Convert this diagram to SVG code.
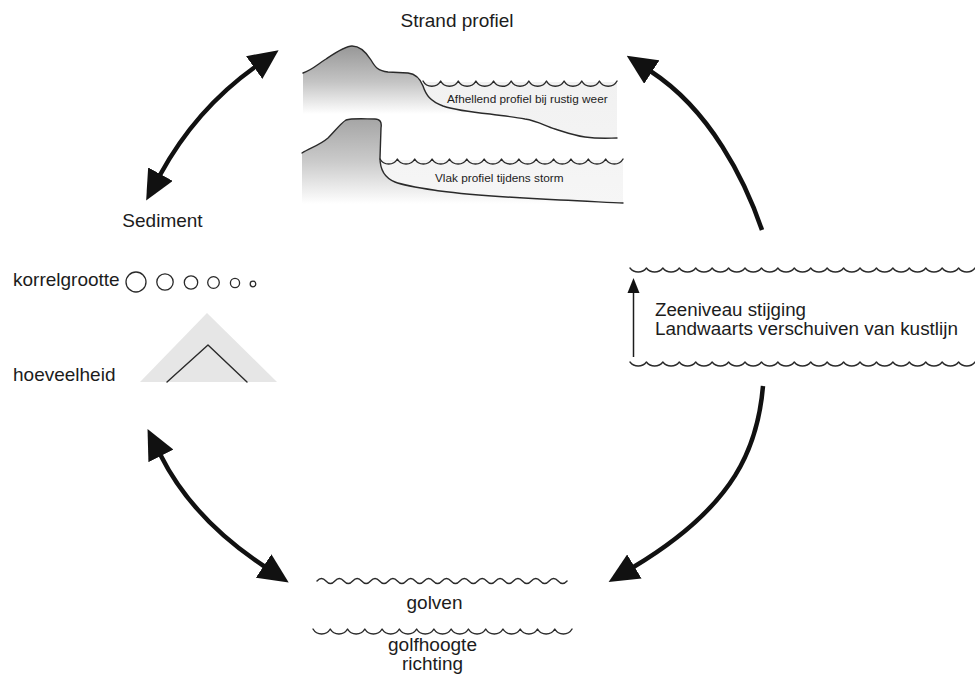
<svg xmlns="http://www.w3.org/2000/svg" width="975" height="688" viewBox="0 0 975 688">
<style>
.t{font-family:"Liberation Sans",Arial,Helvetica,sans-serif;font-size:19px;fill:#1c1c1c}
.c{font-size:17.5px}
.s{font-size:11.8px}
.m{text-anchor:middle}
.ln{fill:none;stroke:#2a2a2a;stroke-width:1.4;stroke-linejoin:round;stroke-linecap:round}
.arr{fill:none;stroke:#111;stroke-width:4.5}
</style>
<defs>
<marker id="ah" viewBox="0 0 30 28" refX="1" refY="14" markerWidth="30" markerHeight="28" markerUnits="userSpaceOnUse" orient="auto-start-reverse">
<path d="M0,0 L30,14 L0,28 Z" fill="#111"/>
</marker>
<linearGradient id="g1" gradientUnits="userSpaceOnUse" x1="0" y1="50" x2="0" y2="114">
<stop offset="0" stop-color="#9c9c9c"/><stop offset="0.5" stop-color="#c4c4c4"/><stop offset="1" stop-color="#ffffff"/>
</linearGradient>
<linearGradient id="g2" gradientUnits="userSpaceOnUse" x1="0" y1="120" x2="0" y2="204">
<stop offset="0" stop-color="#a6a6a6"/><stop offset="0.5" stop-color="#cbcbcb"/><stop offset="1" stop-color="#ffffff"/>
</linearGradient>
<linearGradient id="gw" gradientUnits="userSpaceOnUse" x1="0" y1="80" x2="0" y2="205">
<stop offset="0" stop-color="#f1f1f1"/><stop offset="1" stop-color="#f6f6f6"/>
</linearGradient>
</defs>
<rect width="975" height="688" fill="#ffffff"/>

<g id="strand-profiel">
<text class="t m" x="457" y="27">Strand profiel</text>
<path d="M303,73 C312,70 318,64 326,59 C335,53 345,46 352,46 C360,46 366,52 371,60 C375,67 378,71 388,72 L408,73 C416,74 420,78 423,86 C426,95 430,101 443,106 C455,110 470,112 490,114 C505,116 515,117 525,119 C538,121 545,126 555,129 C565,132 572,135 585,137 C600,139 610,138 617,138 L617,140 L303,140 Z" fill="url(#g1)"/>
<path d="M423,82 L617,82 L617,138 C610,138 600,139 585,137 C572,135 565,132 555,129 C545,126 538,121 525,119 C515,117 505,116 490,114 C470,112 455,110 443,106 C430,101 426,95 423,86 Z" fill="url(#gw)"/>
<path class="ln" d="M303,73 C312,70 318,64 326,59 C335,53 345,46 352,46 C360,46 366,52 371,60 C375,67 378,71 388,72 L408,73 C416,74 420,78 423,86 C426,95 430,101 443,106 C455,110 470,112 490,114 C505,116 515,117 525,119 C538,121 545,126 555,129 C565,132 572,135 585,137 C600,139 610,138 617,138"/>
<path class="ln" d="M423,81 a10,10 0 0 0 17.64,0 a10,10 0 0 0 17.64,0 a10,10 0 0 0 17.64,0 a10,10 0 0 0 17.64,0 a10,10 0 0 0 17.64,0 a10,10 0 0 0 17.64,0 a10,10 0 0 0 17.64,0 a10,10 0 0 0 17.64,0 a10,10 0 0 0 17.64,0 a10,10 0 0 0 17.64,0 a10,10 0 0 0 17.64,0"/>
<text class="t s" x="447" y="103">Afhellend profiel bij rustig weer</text>

<path d="M302,153 C310,148 320,145 328,138 C335,131 340,124 346,120 C352,118 365,119 375,119 C380,119 382,122 381,128 L380,158 C380,170 385,178 395,182 C405,186 420,188 440,191 C470,195 520,198 560,200 C590,201 610,203 623,203 L623,212 L302,212 Z" fill="url(#g2)"/>
<path d="M380,160 L623,160 L623,203 C610,203 590,201 560,200 C520,198 470,195 440,191 C420,188 405,186 395,182 C385,178 380,170 380,160 Z" fill="url(#gw)"/>
<path class="ln" d="M302,153 C310,148 320,145 328,138 C335,131 340,124 346,120 C352,118 365,119 375,119 C380,119 382,122 381,128 L380,158 C380,170 385,178 395,182 C405,186 420,188 440,191 C470,195 520,198 560,200 C590,201 610,203 623,203"/>
<path class="ln" d="M380,159 a10,10 0 0 0 17.36,0 a10,10 0 0 0 17.36,0 a10,10 0 0 0 17.36,0 a10,10 0 0 0 17.36,0 a10,10 0 0 0 17.36,0 a10,10 0 0 0 17.36,0 a10,10 0 0 0 17.36,0 a10,10 0 0 0 17.36,0 a10,10 0 0 0 17.36,0 a10,10 0 0 0 17.36,0 a10,10 0 0 0 17.36,0 a10,10 0 0 0 17.36,0 a10,10 0 0 0 17.36,0 a10,10 0 0 0 17.36,0"/>
<text class="t s" x="435" y="182">Vlak profiel tijdens storm</text>
</g>

<g id="sediment">
<text class="t m" x="162.5" y="227">Sediment</text>
<text class="t" x="13" y="286">korrelgrootte</text>
<g fill="none" stroke="#2a2a2a" stroke-width="1.3">
<circle cx="136" cy="282" r="10"/>
<circle cx="165" cy="282" r="8.2"/>
<circle cx="191" cy="282.5" r="6.7"/>
<circle cx="213.5" cy="282.5" r="5.8"/>
<circle cx="235" cy="283" r="4.6"/>
<circle cx="253" cy="284" r="2.8"/>
</g>
<text class="t" x="13" y="381">hoeveelheid</text>
<polygon points="207,313 277,382 140,382" fill="#e6e6e6"/>
<polyline class="ln" points="167,382 208,345 247,382"/>
</g>

<g id="zeeniveau">
<path class="ln" d="M630,268 a10.4,10.4 0 0 0 16.43,0 a10.4,10.4 0 0 0 16.43,0 a10.4,10.4 0 0 0 16.43,0 a10.4,10.4 0 0 0 16.43,0 a10.4,10.4 0 0 0 16.43,0 a10.4,10.4 0 0 0 16.43,0 a10.4,10.4 0 0 0 16.43,0 a10.4,10.4 0 0 0 16.43,0 a10.4,10.4 0 0 0 16.43,0 a10.4,10.4 0 0 0 16.43,0 a10.4,10.4 0 0 0 16.43,0 a10.4,10.4 0 0 0 16.43,0 a10.4,10.4 0 0 0 16.43,0 a10.4,10.4 0 0 0 16.43,0 a10.4,10.4 0 0 0 16.43,0 a10.4,10.4 0 0 0 16.43,0 a10.4,10.4 0 0 0 16.43,0 a10.4,10.4 0 0 0 16.43,0 a10.4,10.4 0 0 0 16.43,0 a10.4,10.4 0 0 0 16.43,0 a10.4,10.4 0 0 0 16.43,0"/>
<path class="ln" d="M630,362 a10.4,10.4 0 0 0 16.43,0 a10.4,10.4 0 0 0 16.43,0 a10.4,10.4 0 0 0 16.43,0 a10.4,10.4 0 0 0 16.43,0 a10.4,10.4 0 0 0 16.43,0 a10.4,10.4 0 0 0 16.43,0 a10.4,10.4 0 0 0 16.43,0 a10.4,10.4 0 0 0 16.43,0 a10.4,10.4 0 0 0 16.43,0 a10.4,10.4 0 0 0 16.43,0 a10.4,10.4 0 0 0 16.43,0 a10.4,10.4 0 0 0 16.43,0 a10.4,10.4 0 0 0 16.43,0 a10.4,10.4 0 0 0 16.43,0 a10.4,10.4 0 0 0 16.43,0 a10.4,10.4 0 0 0 16.43,0 a10.4,10.4 0 0 0 16.43,0 a10.4,10.4 0 0 0 16.43,0 a10.4,10.4 0 0 0 16.43,0 a10.4,10.4 0 0 0 16.43,0 a10.4,10.4 0 0 0 16.43,0"/>
<line x1="633.5" y1="357" x2="633.5" y2="290" stroke="#1c1c1c" stroke-width="1.5"/>
<polygon points="633.5,278 627.5,293 639.5,293" fill="#111"/>
<text class="t c" x="655" y="316" textLength="151" lengthAdjust="spacingAndGlyphs">Zeeniveau stijging</text>
<text class="t c" x="655" y="335" textLength="303" lengthAdjust="spacingAndGlyphs">Landwaarts verschuiven van kustlijn</text>
</g>

<g id="golven">
<path class="ln" d="M317,581 q4.46,-5 8.93,0 t8.93,0 t8.93,0 t8.93,0 t8.93,0 t8.93,0 t8.93,0 t8.93,0 t8.93,0 t8.93,0 t8.93,0 t8.93,0 t8.93,0 t8.93,0 t8.93,0 t8.93,0 t8.93,0 t8.93,0 t8.93,0 t8.93,0 t8.93,0 t8.93,0 t8.93,0 t8.93,0 t8.93,0 t8.93,0 t8.93,0 t8.93,0"/>
<text class="t m" x="434.5" y="609">golven</text>
<path class="ln" d="M313,629 a10,10 0 0 0 17.27,0 a10,10 0 0 0 17.27,0 a10,10 0 0 0 17.27,0 a10,10 0 0 0 17.27,0 a10,10 0 0 0 17.27,0 a10,10 0 0 0 17.27,0 a10,10 0 0 0 17.27,0 a10,10 0 0 0 17.27,0 a10,10 0 0 0 17.27,0 a10,10 0 0 0 17.27,0 a10,10 0 0 0 17.27,0 a10,10 0 0 0 17.27,0 a10,10 0 0 0 17.27,0 a10,10 0 0 0 17.27,0 a10,10 0 0 0 17.27,0"/>
<text class="t c m" x="432.5" y="651" textLength="89" lengthAdjust="spacingAndGlyphs">golfhoogte</text>
<text class="t c m" x="432.5" y="670" textLength="61" lengthAdjust="spacingAndGlyphs">richting</text>
</g>

<g id="connectors">
<path class="arr" d="M160,175 Q195.7,109.4 255,67" marker-start="url(#ah)" marker-end="url(#ah)"/>
<path class="arr" d="M762,230 C745,180 710,110 651,71.5" marker-end="url(#ah)"/>
<path class="arr" d="M160.5,455 Q192.5,519 264.5,566.5" marker-start="url(#ah)" marker-end="url(#ah)"/>
<path class="arr" d="M763,386 C758,445 737,505 633.5,567" marker-end="url(#ah)"/>
</g>
</svg>
